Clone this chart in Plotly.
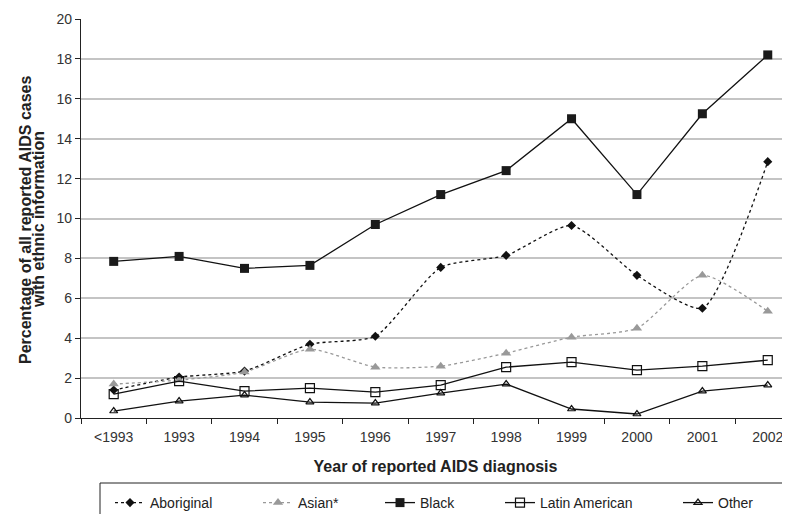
import plotly.graph_objects as go

categories = ["<1993", "1993", "1994", "1995", "1996", "1997", "1998", "1999", "2000", "2001", "2002"]
aboriginal = [1.4, 2.05, 2.35, 3.7, 4.1, 7.55, 8.15, 9.65, 7.15, 5.5, 12.85]
asian = [1.7, 1.9, 2.3, 3.45, 2.55, 2.6, 3.25, 4.05, 4.5, 7.15, 5.35]
black = [7.85, 8.1, 7.5, 7.65, 9.7, 11.2, 12.4, 15.0, 11.2, 15.25, 18.2]
latin = [1.2, 1.85, 1.35, 1.5, 1.3, 1.65, 2.55, 2.8, 2.4, 2.6, 2.9]
other = [0.35, 0.85, 1.15, 0.8, 0.75, 1.25, 1.7, 0.45, 0.2, 1.35, 1.65]
y_title_lines = ["Percentage of all reported AIDS cases", "with ethnic information"]

FONT = "Liberation Sans, Arial, sans-serif"
OFF = 8  # page body margin
L, T, W, H = 81, 19, 709, 399  # plot area in page pixels
FIG_W, FIG_H = 790 - OFF, 514 - OFF


def px_x(p):
    return (p - L) / W


def px_y(p):
    return (T + H - p) / H


def cont_x(p):
    return (p - OFF) / FIG_W


def cont_y(p):
    return 1 - (p - OFF) / FIG_H


fig = go.Figure()
fig.add_trace(go.Scatter(x=categories, y=aboriginal, name="Aboriginal", mode="lines+markers", legend="legend",
                         line=dict(color="#111111", width=1.3, dash="dot", shape="spline", smoothing=0.6),
                         marker=dict(symbol="diamond", size=7, color="#111111")))
fig.add_trace(go.Scatter(x=categories, y=asian, name="Asian*", mode="lines+markers", legend="legend2",
                         line=dict(color="#999999", width=1.3, dash="dot", shape="spline", smoothing=0.6),
                         marker=dict(symbol="triangle-up", size=9, color="#999999")))
fig.add_trace(go.Scatter(x=categories, y=black, name="Black", mode="lines+markers", legend="legend3",
                         line=dict(color="#111111", width=1.3),
                         marker=dict(symbol="square", size=9, color="#1a1a1a")))
fig.add_trace(go.Scatter(x=categories, y=latin, name="Latin American", mode="lines+markers", legend="legend4",
                         line=dict(color="#111111", width=1.3),
                         marker=dict(symbol="square-open", size=9, color="#111111", line=dict(width=1.2))))
fig.add_trace(go.Scatter(x=categories, y=other, name="Other", mode="lines+markers", legend="legend5",
                         line=dict(color="#111111", width=1.3),
                         marker=dict(symbol="triangle-up-open", size=7, color="#111111", line=dict(width=1.2))))

legend_starts = [115, 263, 385, 505, 683]
legend_keys = ["legend", "legend2", "legend3", "legend4", "legend5"]
legends = {}
for key, xs in zip(legend_keys, legend_starts):
    legends[key] = dict(orientation="h", xref="container", yref="container",
                        x=cont_x(xs - 5), y=cont_y(503), xanchor="left", yanchor="middle",
                        font=dict(size=14, color="#222222"), bgcolor="rgba(0,0,0,0)", borderwidth=0)

annotations = [
    dict(text="<b>%s</b>" % y_title_lines[0], textangle=-90, xref="paper", yref="paper",
         x=px_x(25), y=px_y(220), showarrow=False, xanchor="center", yanchor="middle",
         font=dict(size=16, color="#222222")),
    dict(text="<b>%s</b>" % y_title_lines[1], textangle=-90, xref="paper", yref="paper",
         x=px_x(38), y=px_y(220), showarrow=False, xanchor="center", yanchor="middle",
         font=dict(size=16, color="#222222")),
]

fig.update_layout(
    width=FIG_W, height=FIG_H,
    margin=dict(l=L - OFF, r=FIG_W - (L - OFF) - W, t=T - OFF, b=FIG_H - (T - OFF) - H),
    paper_bgcolor="white", plot_bgcolor="white",
    font=dict(family=FONT, size=14, color="#333333"),
    showlegend=True,
    xaxis=dict(type="category", range=[-0.5, 10.34], showgrid=False, showline=True, automargin=False,
               linecolor="#222222", linewidth=1.2, ticks="outside", tickson="boundaries",
               ticklen=5, tickcolor="#222222", tickfont=dict(size=14, color="#333333"),
               ticklabelstandoff=6,
               title=dict(text="<b>Year of reported AIDS diagnosis</b>",
                          font=dict(size=16, color="#222222"), standoff=16)),
    yaxis=dict(range=[0, 20], dtick=2, showgrid=True, gridcolor="#c4c4c4", gridwidth=1.5,
               zeroline=False, showline=True, linecolor="#222222", linewidth=1.2, automargin=False,
               ticks="outside", ticklen=5, tickcolor="#222222",
               tickfont=dict(size=14, color="#333333")),
    annotations=annotations,
    shapes=[dict(type="rect", xref="paper", yref="paper",
                 x0=px_x(100), x1=px_x(783), y0=px_y(483), y1=px_y(530),
                 line=dict(color="#222222", width=1))],
    **legends,
)

fig.write_html("out.html")
